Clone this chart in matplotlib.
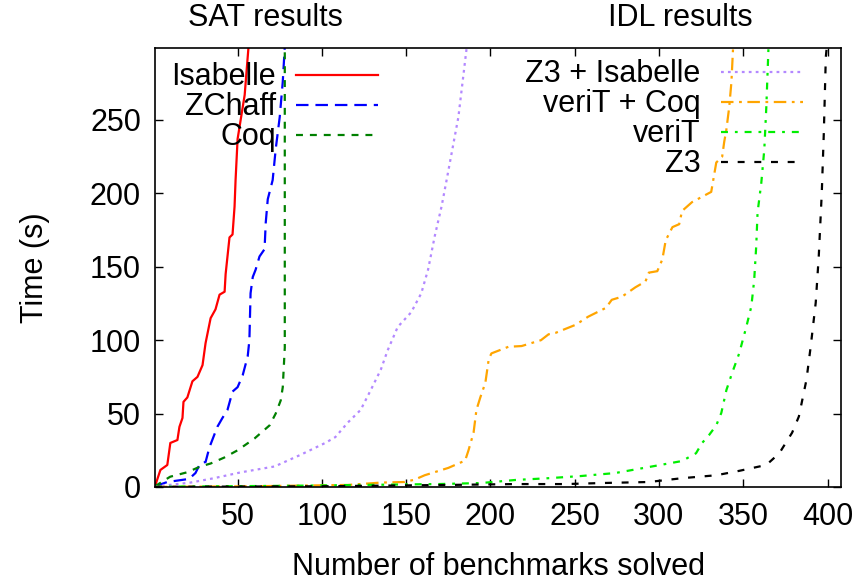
import matplotlib
matplotlib.use('Agg')
import matplotlib.pyplot as plt
import numpy as np

plt.rcParams['font.family'] = ['Liberation Sans', 'DejaVu Sans']
plt.rcParams['lines.scale_dashes'] = False

# SAT curves (benchmarks solved, cumulative time in s)
isabelle_x = [1, 4.2, 8.3, 10.1, 14.3, 15.5, 17.3, 17.9, 20.2, 23.2, 26.2, 29.2, 31, 34, 36.9, 39.3,
              42.3, 42.9, 45.2, 47, 48.2, 48.8, 50, 54.2, 56.5]
isabelle_y = [0.5, 11.6, 15, 30, 32, 41, 47, 58, 61, 72, 75, 83, 98, 115, 121, 131,
              133, 145, 170, 172, 191, 209, 237, 267, 300]

zchaff_x = [1, 8.3, 21.2, 25, 28, 31, 33.3, 38, 41, 44, 47, 50, 53, 56, 57, 57.7, 59, 60.7,
            63, 66, 66.7, 67.9, 70.8, 72.6, 75, 76.8, 78]
zchaff_y = [0.5, 3.4, 5.5, 9.5, 16.4, 17, 27, 41, 47, 52.5, 65, 68, 76, 89, 100, 132, 143, 148,
            157, 162, 180, 196, 209, 230, 252, 276, 300]

coq_x = [1, 10, 20, 28, 34, 42, 50, 60, 69, 72.6, 75.6, 76.8, 78, 78]
coq_y = [0.5, 7, 10, 14, 16, 20, 25, 33, 42, 50, 59, 68, 95, 300]

# IDL curves
z3isa_x = [1, 22, 36, 52, 72, 87.5, 102, 108, 115.5, 123, 129, 135, 139, 145, 153, 159, 163,
           167, 171, 174, 181, 186]
z3isa_y = [0.3, 3, 6, 10, 14, 22, 30, 34, 44, 52.5, 66, 80, 93, 109, 119, 132, 148,
           171, 191, 209, 252, 300]

veritcoq_x = [1, 60, 115.5, 135, 149, 155, 161, 175, 185, 187, 190, 191.7, 194, 197, 199, 200.6,
              210.7, 218.5, 230, 234.5, 238.7, 250.6, 258, 268.5, 272, 278, 286, 292, 294, 299,
              302, 304, 308, 312, 313.7, 319.6, 331, 334, 337.5, 338.7, 340, 341.7, 343, 344]
veritcoq_y = [0.1, 0.5, 1.4, 3, 3.4, 5, 8, 13, 18, 25, 37, 52.5, 61, 71, 87, 91,
              95.5, 96, 100, 104, 105, 110.5, 116, 122, 127.5, 129.6, 136, 140, 146, 147,
              155, 168, 177, 179, 188, 194, 201, 221, 225, 235, 243.5, 259, 276, 300]

verit_x = [1, 80, 169, 194.6, 215, 234.5, 254, 274, 294, 313.7, 322, 325.6, 329.8, 334, 337,
           340, 343.5, 347.6, 351.8, 354.8, 356.5, 357.7, 358.5, 360.7, 362.5, 363.7, 365]
verit_y = [0.2, 0.8, 2, 2.7, 4.8, 6, 7.5, 9.5, 13.6, 17.7, 23, 30, 35.5, 42, 50.5,
           66, 78, 91, 109, 123, 141, 164, 187, 207, 230, 259, 300]

z3_x = [1, 100, 175, 215, 244.6, 266, 294, 313.7, 334, 347.6, 363.7, 371.4, 379, 383, 387.5,
        390, 393, 394.8, 396.6, 397.8, 399, 399.6]
z3_y = [0.1, 0.5, 1.4, 2, 2, 2.7, 3.4, 6, 8, 11, 15, 23, 37, 48, 73,
        95.5, 125.5, 157, 200.5, 241, 293, 300]

fs = 22

fig = plt.figure(figsize=(8.6, 5.86), dpi=100)
ax = fig.add_axes([155 / 860, 99 / 586, 686 / 860, 439 / 586])

lw = 1.6
l1, = ax.plot(isabelle_x, isabelle_y, color='#ff0000', lw=lw, label='Isabelle')
l2, = ax.plot(zchaff_x, zchaff_y, color='#0000ff', lw=lw, dashes=(9, 5), label='ZChaff')
l3, = ax.plot(coq_x, coq_y, color='#008000', lw=lw, dashes=(5, 5), label='Coq')

l4, = ax.plot(z3isa_x, z3isa_y, color='#b388ff', lw=lw, dashes=(2, 3), label='Z3 + Isabelle')
l5, = ax.plot(veritcoq_x, veritcoq_y, color='#ffa500', lw=lw, dashes=(9, 4, 2, 4), label='veriT + Coq')
l6, = ax.plot(verit_x, verit_y, color='#00ee00', lw=lw, dashes=(5, 5, 2, 5), label='veriT')
l7, = ax.plot(z3_x, z3_y, color='#000000', lw=lw, dashes=(5, 7), label='Z3')

ax.set_xlim(1, 408)
ax.set_ylim(0, 299)
ax.set_xticks([50, 100, 150, 200, 250, 300, 350, 400])
ax.set_yticks([0, 50, 100, 150, 200, 250])
ax.tick_params(direction='in', top=True, right=True, length=6, width=1, labelsize=fs)
ax.tick_params(axis='x', pad=11)
ax.tick_params(axis='y', pad=10)
for s in ax.spines.values():
    s.set_linewidth(1.2)

ax.set_xlabel('Number of benchmarks solved', fontsize=fs, labelpad=14)
ax.set_ylabel('Time (s)', fontsize=fs, labelpad=29)

fig.text(265 / 860, 1 - 18 / 586, 'SAT results', fontsize=fs, ha='center', va='center')
fig.text(680 / 860, 1 - 18 / 586, 'IDL results', fontsize=fs, ha='center', va='center')

leg1 = ax.legend(handles=[l1, l2, l3], loc='upper right', bbox_to_anchor=((378 - 155) / 686, 0.967),
                 frameon=False, markerfirst=False, fontsize=fs, handlelength=2.7,
                 handletextpad=0.65, labelspacing=0.0, borderpad=0, borderaxespad=0)
ax.add_artist(leg1)
ax.legend(handles=[l4, l5, l6, l7], loc='upper right', bbox_to_anchor=((803 - 155) / 686, 0.974),
          frameon=False, markerfirst=False, fontsize=fs, handlelength=2.7,
          handletextpad=0.65, labelspacing=0.0, borderpad=0, borderaxespad=0)

plt.savefig('out.png', dpi=100)
